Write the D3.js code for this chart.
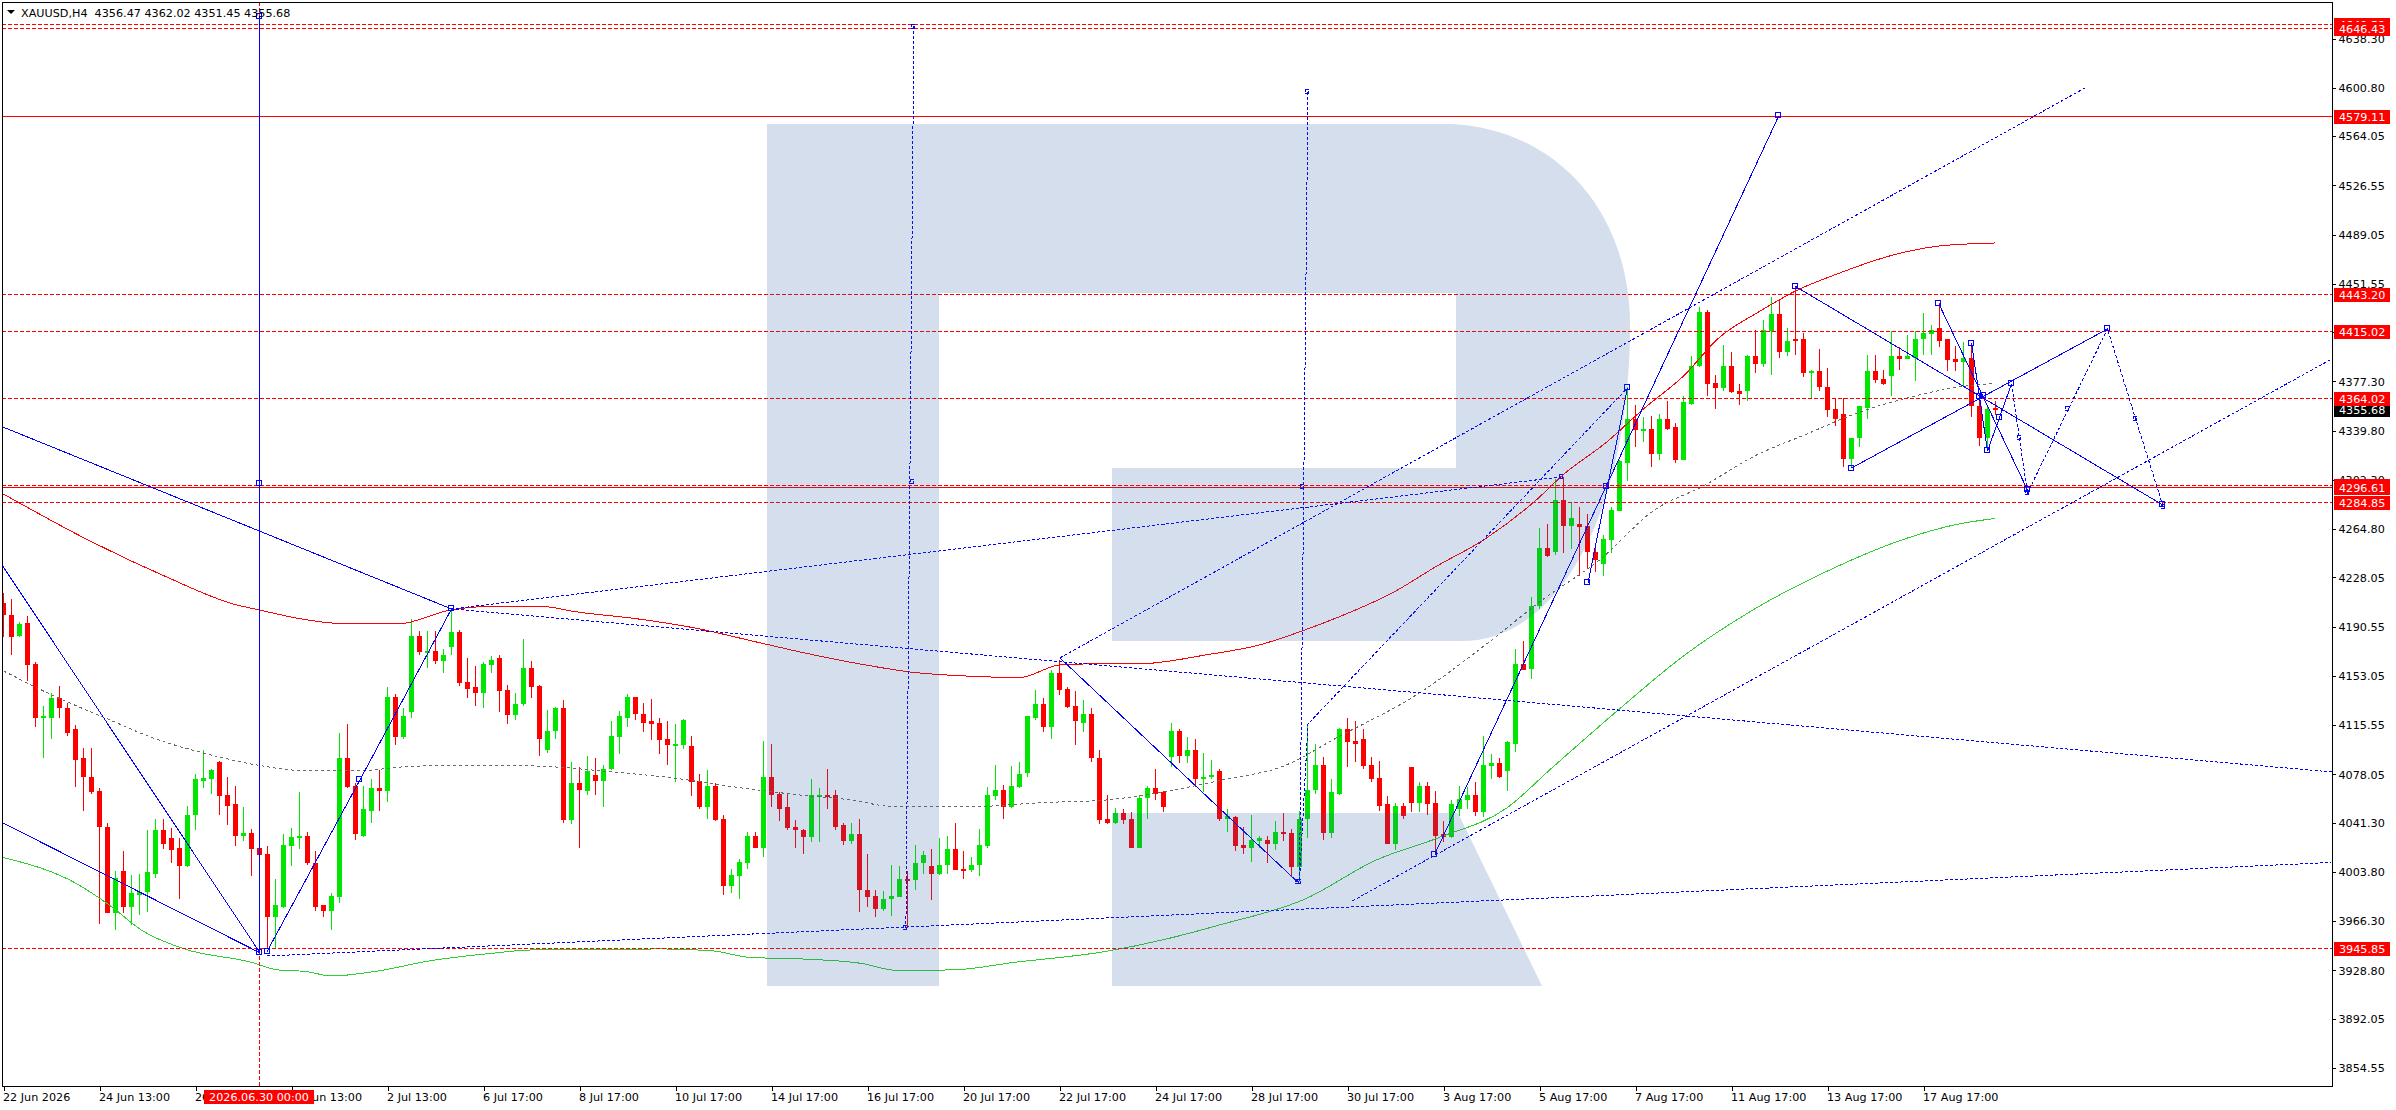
<!DOCTYPE html>
<html>
<head>
<meta charset="utf-8">
<title>XAUUSD,H4</title>
<script src="https://d3js.org/d3.v7.min.js"></script>
<style>
	body { margin: 0; background: #fff; }
	svg { display: block; }
	text { font-family: "DejaVu Sans", sans-serif; font-size: 11.2px; fill: #000; }
	.axis path { display: none; }
	.axis line { stroke: #000; shape-rendering: crispEdges; }
</style>
</head>
<body>
<svg width="2396" height="1110"></svg>
<script>

var opens = [
	4208,4199,4183,4193,4162,4121,4121,4136,4128,4112,
	4090,4076,4065,4038,3972,4004,3977,3986,3988,4002,
	4035,4029,4022,4008,4047,4073,4074,4087,4062,4055,
	4031,4033,4022,4017,3969,3977,4023,4029,4031,4010,
	3978,3974,3984,4090,4069,4031,4050,4067,4065,4137,
	4106,4125,4183,4171,4172,4164,4175,4186,4148,4144,
	4140,4161,4166,4142,4123,4131,4159,4145,4096,4111,
	4128,4043,4071,4065,4077,4073,4082,4106,4121,4137,
	4124,4118,4117,4105,4099,4100,4099,4073,4053,4069,
	4044,3993,4000,4010,4031,4022,4076,4063,4053,4038,
	4035,4030,4061,4062,4062,4039,4027,4032,3990,3985,
	3975,3983,3984,3998,3997,4010,4008,4002,4009,4021,
	4006,4005,4009,4023,4061,4066,4053,4068,4079,4121,
	4131,4114,4155,4143,4130,4117,4124,4090,4044,4041,
	4048,4044,4022,4060,4067,4064,4091,4111,4092,4096,
	4074,4076,4080,4044,4045,4024,4022,4027,4028,4025,
	4034,4033,4007,4044,4066,4085,4033,4063,4112,4103,
	4105,4085,4075,4055,4025,4054,4083,4056,4069,4056,
	4032,4030,4051,4058,4062,4049,4084,4086,4080,4101,
	4162,4158,4206,4250,4247,4287,4267,4268,4267,4247,
	4238,4256,4278,4315,4348,4340,4341,4322,4348,4342,
	4317,4360,4389,4430,4376,4372,4389,4370,4370,4396,
	4390,4415,4428,4399,4409,4409,4383,4385,4373,4356,
	4352,4318,4334,4357,4385,4379,4381,4396,4394,4395,
	4409,4413,4418,4409,4394,4392,4395,4358,4334,4356.47
];
var highs = [
	4216,4211,4194,4198,4163,4130,4140,4145,4132,4115,
	4098,4098,4067,4041,4004,4019,4001,4002,4035,4044,
	4044,4037,4029,4054,4078,4096,4082,4088,4076,4069,
	4053,4036,4022,4023,3998,4032,4037,4064,4034,4019,
	3978,3987,4109,4116,4071,4069,4074,4081,4144,4139,
	4128,4196,4187,4187,4187,4173,4204,4188,4166,4160,
	4163,4168,4169,4146,4140,4181,4164,4146,4127,4129,
	4134,4087,4083,4092,4090,4085,4118,4126,4139,4137,
	4132,4135,4121,4118,4116,4120,4107,4078,4081,4071,
	4047,4006,4013,4034,4034,4103,4101,4064,4063,4043,
	4036,4074,4067,4082,4066,4041,4041,4044,4017,3990,
	3989,4009,4008,4004,4024,4019,4021,4029,4031,4041,
	4019,4015,4036,4068,4085,4070,4084,4087,4122,4142,
	4136,4157,4165,4144,4141,4134,4128,4096,4062,4052,
	4051,4049,4062,4069,4082,4065,4117,4112,4106,4105,
	4094,4089,4082,4051,4046,4038,4047,4031,4031,4042,
	4048,4036,4050,4116,4101,4091,4074,4113,4121,4118,
	4112,4091,4088,4061,4056,4056,4083,4072,4072,4065,
	4042,4058,4069,4068,4072,4107,4093,4090,4103,4173,
	4179,4213,4265,4268,4303,4304,4285,4281,4276,4251,
	4260,4281,4317,4373,4359,4350,4351,4352,4362,4345,
	4366,4396,4434,4431,4382,4405,4399,4375,4397,4416,
	4424,4441,4439,4418,4449,4414,4386,4402,4387,4364,
	4364,4334,4358,4397,4397,4386,4415,4403,4412,4415,
	4429,4420,4437,4409,4404,4407,4405,4366,4359,4362.02
];
var lows = [
	4182,4169,4182,4149,4114,4090,4105,4121,4107,4068,
	4050,4063,3964,3972,3959,3972,3963,3971,3973,3999,
	4021,4010,3983,4007,4035,4067,4063,4047,4039,4023,
	4027,4000,4015,3945,3945,3976,4008,4021,4009,3974,
	3969,3959,3980,4067,4028,4030,4041,4050,4057,4100,
	4105,4121,4169,4159,4162,4155,4169,4145,4136,4130,
	4128,4155,4125,4116,4119,4130,4136,4092,4094,4105,
	4041,4040,4022,4062,4062,4053,4081,4093,4114,4119,
	4110,4104,4093,4085,4072,4097,4061,4051,4044,4042,
	3986,3987,3983,4006,4022,4015,4053,4042,4035,4022,
	4017,4026,4026,4051,4035,4024,4025,3973,3977,3969,
	3974,3970,3984,3961,3990,4002,3982,4001,4002,4005,
	3998,4003,4000,4022,4058,4044,4052,4067,4076,4119,
	4110,4105,4138,4128,4100,4110,4087,4040,4040,4040,
	4040,4022,4022,4044,4058,4049,4083,4086,4086,4068,
	4064,4074,4042,4034,4019,4017,4011,4022,4010,4020,
	4027,4000,3999,4029,4063,4028,4029,4062,4083,4087,
	4082,4072,4050,4025,4020,4044,4049,4049,4047,4018,
	4026,4029,4046,4051,4046,4045,4074,4075,4065,4095,
	4157,4150,4204,4243,4245,4246,4249,4229,4234,4232,
	4229,4246,4278,4301,4327,4331,4312,4317,4340,4315,
	4317,4359,4388,4366,4356,4370,4368,4359,4362,4383,
	4388,4382,4395,4396,4397,4380,4364,4370,4350,4343,
	4312,4312,4327,4348,4376,4374,4366,4386,4394,4377,
	4397,4397,4403,4385,4385,4373,4350,4328,4324,4351.45
];
var closes = [
	4199,4182,4192,4161,4121,4122,4136,4128,4109,4089,
	4076,4064,4038,3972,3999,3977,3987,3988,4003,4035,
	4025,4020,4008,4047,4074,4075,4081,4061,4054,4031,
	4033,4021,4016,3969,3978,4024,4030,4031,4010,3977,
	3974,3985,4090,4068,4032,4051,4067,4065,4137,4106,
	4122,4183,4171,4172,4164,4169,4186,4147,4143,4140,
	4162,4165,4141,4123,4131,4159,4144,4105,4111,4128,
	4043,4071,4066,4080,4073,4082,4107,4122,4137,4124,
	4117,4116,4104,4100,4101,4119,4072,4053,4069,4043,
	3993,4001,4011,4031,4022,4076,4062,4051,4037,4035,
	4030,4062,4062,4061,4038,4027,4032,3990,3984,3975,
	3983,3985,3998,3997,4010,4016,4002,4009,4021,4005,
	4005,4009,4024,4062,4066,4053,4069,4078,4122,4131,
	4114,4155,4142,4129,4118,4124,4090,4043,4041,4048,
	4043,4022,4060,4067,4063,4053,4111,4092,4096,4074,
	4076,4077,4044,4046,4023,4022,4028,4029,4025,4034,
	4032,4007,4044,4066,4085,4033,4064,4112,4102,4101,
	4084,4074,4054,4025,4054,4046,4056,4069,4055,4031,
	4030,4055,4059,4062,4049,4085,4086,4076,4102,4162,
	4157,4206,4250,4244,4287,4267,4273,4266,4247,4241,
	4257,4279,4316,4348,4340,4341,4322,4348,4341,4317,
	4361,4389,4430,4375,4372,4389,4369,4367,4396,4390,
	4416,4428,4399,4408,4408,4383,4385,4373,4355,4348,
	4318,4334,4358,4385,4378,4375,4396,4394,4396,4409,
	4414,4416,4408,4393,4392,4395,4358,4334,4356,4355.68
];

// moving averages, [bar, price]
var maRed = [[0,4291.2],[10.8,4255.5],[20.4,4228],[28.7,4207.5],[32,4202.9],[37.2,4196.1],[43,4192.3],[49.3,4192.3],[55.9,4202.9],[60.8,4205.6],[67.2,4205.6],[71.7,4201.4],[79.3,4196.1],[85.7,4190],[95.2,4177],[99.6,4170.9],[107.8,4161],[113.3,4155.7],[120,4152.7],[127,4151.5],[132,4161],[135.3,4161.8],[141.7,4161.8],[150.6,4169],[157,4176.3],[162,4186.2],[167.2,4198.3],[173.6,4215.9],[179.3,4236.8],[185,4256.2],[191.6,4286.7],[195,4306.1],[200.4,4330.8],[205,4356],[210,4381.1],[214.4,4410],[219.6,4430.6],[224,4445.8],[229.2,4458.8],[236.2,4473.2],[242,4480.1],[249,4482.4]];
var maGray = [[0,4156.5],[5.9,4138.6],[13.3,4119.2],[18.7,4105.4],[25,4094],[32,4084.5],[37.2,4080.7],[44.2,4080.3],[49.9,4083.4],[55,4084.5],[63.3,4084.5],[68.8,4083.4],[76,4079.6],[83.7,4075],[90,4069.3],[95.2,4065.1],[99.6,4062],[106,4058.2],[111,4053.3],[120,4052.9],[130.2,4056.3],[137.8,4058.2],[144.2,4063.6],[152.4,4073.5],[160.2,4084.5],[166.6,4105.4],[176.7,4138.6],[185.7,4178.5],[192,4209],[199.8,4242.5],[206.2,4278.3],[212.6,4297.7],[218.9,4320.2],[225.3,4336.6],[231.7,4352.9],[238,4364.4],[244.4,4372.7],[248.6,4375.4]];
var maGreen = [[0,4014.4],[9.1,3994.6],[13.3,3977.9],[17.4,3958.5],[22.6,3944.8],[30.8,3934.9],[34.3,3928.8],[37.8,3927.6],[41,3924.2],[46.8,3928],[53.2,3935.6],[60.8,3941.3],[66,3944],[82.4,3944.8],[88.8,3943.2],[93.3,3938.3],[99.6,3937.2],[107.2,3933.8],[111.7,3928.4],[118.7,3928.8],[126.3,3934.5],[137.8,3942.9],[145.4,3952.4],[151.8,3962.7],[162.7,3982.8],[171.6,4012.5],[179.3,4029.3],[187.9,4052.1],[193.4,4081.8],[201.7,4126],[210,4167.9],[218.9,4203.7],[228,4232.6],[238,4257.7],[244.4,4268.4],[249,4272.6]];

// horizontal levels
var dashedLevels = [4649.52,4646.43,4443.20,4415.02,4364.02,4298.40,4284.85,3945.85];
var solidLevels = [4579.11,4296.61];
var currentPrice = 4355.68;

// hand drawn trend lines, [bar, price]
var solidTrends = [
	[[-0.1,4236.4],[32.06,3941.8]],
	[[-0.1,4040.8],[32.06,3941.8]],
	[[-0.1,4342.3],[56,4203.7]],
	[[32.94,3942.8],[44.56,4073.5],[56,4203.7]],
	[[32.06,4655],[32.06,3941.8]],
	[[132.06,4166.4],[161.75,3995.8]],
	[[178.9,4016.8],[221.9,4579.1]],
	[[198.06,4223.5],[203,4372]],
	[[224,4449.3],[269.9,4282.9]],
	[[231,4311],[263,4416.9]],
	[[241.9,4436.3],[253,4294.3]],
	[[246,4406.2],[248,4324],[251,4375]]
];
var dottedTrends = [
	[[32.94,3939.4],[291,4010.6]],
	[[56,4203.7],[291,4079.6]],
	[[56,4203.7],[194.7,4304.2]],
	[[132.06,4166.4],[260.4,4601.2]],
	[[168.6,3981.3],[290.8,4393.3]],
	[[162,3996.5],[163.06,4116.1],[203,4372]],
	[[113.8,4647.6],[112.8,3960.8]],
	[[163.06,4597.4],[162,3996.5]],
	[[251,4375],[253,4292],[263,4416.9],[269.97,4281.4]]
];
var pivots = [[32.06,3941.8],[32.94,3942.8],[56,4203.7],[44.56,4073.5],[32.06,4299.6],[32.06,4655],[221.9,4579.1],[200.4,4297.3],[178.9,4016.8],[198.06,4223.5],[203,4372],[224,4449.3],[269.9,4282.9],[231,4311],[263,4416.9],[241.9,4436.3],[253,4294.3],[246,4406.2],[248,4324],[251,4375],[247,4365.1],[247.5,4365.9],[249.5,4349.7]];
var dottedPivots = [[113.8,4647.6],[113.6,4301.1],[112.8,3960.8],[163.06,4597.4],[162.4,4297.3],[161.75,3995.8],[162,3996.5],[194.7,4304.2],[252,4333.9],[258,4356],[266.5,4349.1],[253,4292],[269.97,4281.4]];

var priceTicks = [4638.30,4600.80,4564.05,4526.55,4489.05,4451.55,4414.80,4377.30,4339.80,4302.30,4264.80,4228.05,4190.55,4153.05,4115.55,4078.05,4041.30,4003.80,3966.30,3928.80,3892.05,3854.55];
var timeBars = [0,12,24,36,48,60,72,84,96,108,120,132,144,156,168,180,192,204,216,228,240];
var timeLabels = ["22 Jun 2026","24 Jun 13:00","26 Jun 13:00","30 Jun 13:00","2 Jul 13:00","6 Jul 17:00","8 Jul 17:00","10 Jul 17:00","14 Jul 17:00","16 Jul 17:00","20 Jul 17:00","22 Jul 17:00","24 Jul 17:00","28 Jul 17:00","30 Jul 17:00","3 Aug 17:00","5 Aug 17:00","7 Aug 17:00","11 Aug 17:00","13 Aug 17:00","17 Aug 17:00"];

var left = 2, right = 2332, top_ = 2, bottom = 1086;
var upColor = '#00e600', downColor = '#ff0000', blue = '#0000ff';

var x = d3.scaleLinear().domain([0, 291]).range([3.5, 2331.5]);
var y = d3.scaleLinear().domain([3840.4, 4665.9]).range([bottom, top_]);

var svg = d3.select('svg');

// plot clip so nothing runs into the axis area
svg.append('clipPath').attr('id', 'plot').append('rect')
	.attr('x', left).attr('y', top_).attr('width', right - left).attr('height', bottom - top_);
var plot = svg.append('g').attr('clip-path', 'url(#plot)').style('shape-rendering', 'crispEdges');

var bars = d3.range(opens.length);

plot.selectAll('.wick').data(bars).enter().append('rect')
	.attr('x', function(i) { return Math.floor(x(i)); })
	.attr('y', function(i) { return y(highs[i]); })
	.attr('width', 1)
	.attr('height', function(i) { return y(lows[i]) - y(highs[i]); })
	.style('fill', function(i) { return closes[i] >= opens[i] ? upColor : downColor; });

plot.selectAll('.body').data(bars).enter().append('rect')
	.attr('x', function(i) { return Math.floor(x(i)) - 2; })
	.attr('y', function(i) { return y(Math.max(opens[i], closes[i])); })
	.attr('width', 5)
	.attr('height', function(i) { return Math.max(2, Math.abs(y(opens[i]) - y(closes[i]))); })
	.style('fill', function(i) { return closes[i] >= opens[i] ? upColor : downColor; });

var line = d3.line()
	.x(function(d) { return x(d[0]); })
	.y(function(d) { return y(d[1]); });
var smooth = d3.line()
	.x(function(d) { return x(d[0]); })
	.y(function(d) { return y(d[1]); })
	.curve(d3.curveMonotoneX);

plot.append('path').attr('d', smooth(maRed)).style('fill', 'none').style('stroke', '#ff0000');
plot.append('path').attr('d', smooth(maGreen)).style('fill', 'none').style('stroke', '#32cd32');
plot.append('path').attr('d', smooth(maGray)).style('fill', 'none').style('stroke', '#696969').style('stroke-dasharray', '3,3');

plot.selectAll('.level').data(dashedLevels).enter().append('line')
	.attr('x1', left).attr('x2', right)
	.attr('y1', function(d) { return Math.round(y(d)) + 0.5; })
	.attr('y2', function(d) { return Math.round(y(d)) + 0.5; })
	.style('stroke', '#ff0000').style('stroke-dasharray', '4,2');
plot.selectAll('.solid').data(solidLevels).enter().append('line')
	.attr('x1', left).attr('x2', right)
	.attr('y1', function(d) { return Math.round(y(d)) + 0.5; })
	.attr('y2', function(d) { return Math.round(y(d)) + 0.5; })
	.style('stroke', '#ff0000');

// crosshair on the selected bar
plot.append('line')
	.attr('x1', x(32.06)).attr('x2', x(32.06)).attr('y1', top_).attr('y2', bottom)
	.style('stroke', '#ff0000').style('stroke-dasharray', '4,2');

plot.selectAll('.trend').data(solidTrends).enter().append('path')
	.attr('d', line).style('fill', 'none').style('stroke', blue);
plot.selectAll('.dotted').data(dottedTrends).enter().append('path')
	.attr('d', line).style('fill', 'none').style('stroke', blue).style('stroke-dasharray', '3,2');

plot.selectAll('.pivot').data(pivots).enter().append('rect')
	.attr('x', function(d) { return Math.floor(x(d[0])) - 2.5; })
	.attr('y', function(d) { return Math.floor(y(d[1])) - 2.5; })
	.attr('width', 5).attr('height', 5)
	.style('fill', 'none').style('stroke', blue);
plot.selectAll('.dotpivot').data(dottedPivots).enter().append('rect')
	.attr('x', function(d) { return Math.floor(x(d[0])) - 1.5; })
	.attr('y', function(d) { return Math.floor(y(d[1])) - 1.5; })
	.attr('width', 3).attr('height', 4)
	.style('fill', 'none').style('stroke', blue).style('stroke-dasharray', '3,1');

// watermark, lies over the chart and tints it
svg.append('path')
	.attr('d', 'M767,124 L1452,124 C1560,130 1630,215 1630,325 C1630,510 1560,641 1462,641 L1112,641 L1112,468 L1456,468 L1456,293 L939,293 L939,986 L767,986 Z M1112,813 L1458,813 L1542,986 L1112,986 Z')
	.style('fill', 'rgb(40,90,160)').style('fill-opacity', 0.2);

// frame
svg.append('rect')
	.attr('x', left + 0.5).attr('y', top_ + 0.5)
	.attr('width', right - left).attr('height', bottom - top_)
	.style('fill', 'none').style('stroke', '#000').style('shape-rendering', 'crispEdges');

// axes
var yAxis = d3.axisRight(y).tickValues(priceTicks).tickSize(3).tickPadding(3)
	.tickFormat(function(d) { return d.toFixed(2); });
svg.append('g').attr('class', 'axis').attr('transform', 'translate(' + (right + 0.5) + ',0.5)').call(yAxis);

var xAxis = d3.axisBottom(x).tickValues(timeBars).tickSize(4).tickPadding(3)
	.tickFormat(function(d, i) { return timeLabels[i]; });
svg.append('g').attr('class', 'axis').attr('transform', 'translate(0,' + (bottom + 0.5) + ')').call(xAxis)
	.selectAll('text').style('text-anchor', 'start').attr('x', -1);

// price labels on the right
function priceBox(p, bg) {
	var c = Math.round(y(p)) + 1;
	svg.append('rect').attr('x', right + 2).attr('y', c - 7).attr('width', 56).attr('height', 14).style('fill', bg);
	svg.append('text').attr('x', right + 7).attr('y', c + 4).style('fill', '#fff').text(p.toFixed(2));
}
priceBox(currentPrice, '#000');
dashedLevels.concat(solidLevels).sort(d3.descending).forEach(function(p) { priceBox(p, '#ff0000'); });

// selected time label
svg.append('rect').attr('x', 204).attr('y', 1090).attr('width', 110).attr('height', 14).style('fill', '#ff0000');
svg.append('text').attr('x', 259).attr('y', 1101).style('fill', '#fff').style('text-anchor', 'middle').text('2026.06.30 00:00');

// header
svg.append('path').attr('d', 'M7,10 L15,10 L11,14 Z').style('fill', '#000');
svg.append('text').attr('x', 21).attr('y', 17).attr('xml:space', 'preserve').text('XAUUSD,H4  4356.47 4362.02 4351.45 4355.68');

</script>
</body>
</html>
